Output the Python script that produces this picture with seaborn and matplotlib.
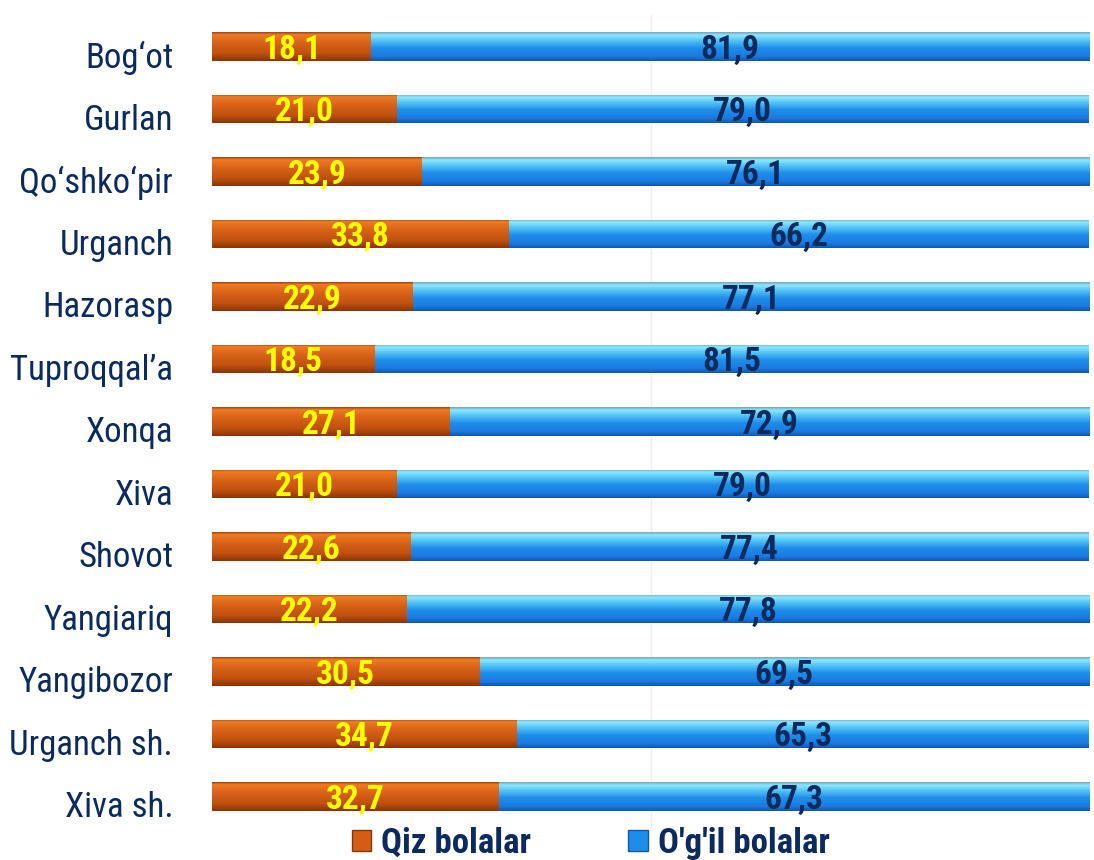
import numpy as np
import pandas as pd
import matplotlib
matplotlib.use("Agg")
import matplotlib.pyplot as plt
import seaborn as sns
from matplotlib.colors import LinearSegmentedColormap
from matplotlib.patches import Patch

regions = ["Bog‘ot", "Gurlan", "Qo‘shko‘pir", "Urganch", "Hazorasp", "Tuproqqal’a",
           "Xonqa", "Xiva", "Shovot", "Yangiariq", "Yangibozor", "Urganch sh.", "Xiva sh."]
girls = [18.1, 21.0, 23.9, 33.8, 22.9, 18.5, 27.1, 21.0, 22.6, 22.2, 30.5, 34.7, 32.7]
boys = [81.9, 79.0, 76.1, 66.2, 77.1, 81.5, 72.9, 79.0, 77.4, 77.8, 69.5, 65.3, 67.3]
series = ["Qiz bolalar", "O'g'il bolalar"]

navy = "#0B2A5E"
orange = "#D45C14"
blue = "#1E8DEA"

sns.set_theme(style="white")
plt.rcParams["font.family"] = ["Roboto Condensed", "Roboto", "DejaVu Sans"]

df = pd.DataFrame({"region": regions, "girls": girls, "boys": boys})
df["total"] = df["girls"] + df["boys"]

fig = plt.figure(figsize=(10.94, 8.60), dpi=100)
ax = fig.add_axes([0.1938, 0.0375, 0.8042, 0.9448])

# stacked: full bar in blue, girls on top of it in orange
sns.barplot(data=df, x="total", y="region", color=blue, width=0.46,
            orient="h", ax=ax, saturation=1)
sns.barplot(data=df, x="girls", y="region", color=orange, width=0.46,
            orient="h", ax=ax, saturation=1)

n = len(regions)
blue_patches = ax.patches[:n]
orange_patches = ax.patches[n:]

# blue part starts where the girls' part ends
for p, g, b in zip(blue_patches, girls, boys):
    p.set_x(g)
    p.set_width(b)

cm_orange = LinearSegmentedColormap.from_list("o", [
    (0.0, "#A4450E"), (0.08, "#EE7B24"), (0.35, "#DA641A"),
    (0.75, "#BF500F"), (1.0, "#8A3406")])
cm_blue = LinearSegmentedColormap.from_list("b", [
    (0.0, "#7AA6BA"), (0.1, "#8BE8FF"), (0.3, "#52C2F6"),
    (0.55, "#1F8EEA"), (0.85, "#1A7AE0"), (1.0, "#1456AA")])

grad = np.linspace(0, 1, 64).reshape(-1, 1)
for patches, cmap in [(blue_patches, cm_blue), (orange_patches, cm_orange)]:
    for p in patches:
        x0, y0 = p.get_x(), p.get_y()
        x1, y1 = x0 + p.get_width(), y0 + p.get_height()
        im = ax.imshow(grad, cmap=cmap, aspect="auto", extent=[x0, x1, y1, y0],
                       origin="upper", zorder=p.get_zorder() + 0.1)
        im.set_clip_path(p)

ax.set_xlim(0, 100.3)
ax.set_ylim(n - 0.5, -0.5)

# value labels
for patches, vals, col in [(orange_patches, girls, "#FFFF00"), (blue_patches, boys, navy)]:
    for p, v in zip(patches, vals):
        ax.text(p.get_x() + p.get_width() / 2, p.get_y() + p.get_height() / 2 + 0.05,
                f"{v:.1f}".replace(".", ","), ha="center", va="center",
                color=col, fontsize=24, fontweight="bold", zorder=5)

ax.axvline(50, color="#EEEEEE", lw=1, zorder=0)
ax.axvline(-0.4, color="#BBBBBB", lw=4, alpha=0.5, zorder=0)

ax.set_xlabel("")
ax.set_ylabel("")
ax.set_xticks([])
ax.tick_params(axis="y", length=0, pad=28, labelsize=25, labelcolor=navy)
for lbl in ax.get_yticklabels():
    lbl.set_transform(lbl.get_transform() +
                      matplotlib.transforms.ScaledTranslation(0, -8 / 100, fig.dpi_scale_trans))
sns.despine(ax=ax, left=True, bottom=True)

handles = [Patch(facecolor=orange, edgecolor="#8A3406"),
           Patch(facecolor=blue, edgecolor="#1456AA")]
leg = fig.legend(handles, series, loc="center", bbox_to_anchor=(0.54, 0.019), ncol=2,
                 frameon=False, handlelength=0.55, handleheight=0.55,
                 handletextpad=0.3, columnspacing=2.8,
                 prop={"weight": "bold", "size": 25})
for t in leg.get_texts():
    t.set_color(navy)

fig.savefig("out.png", dpi=100)
